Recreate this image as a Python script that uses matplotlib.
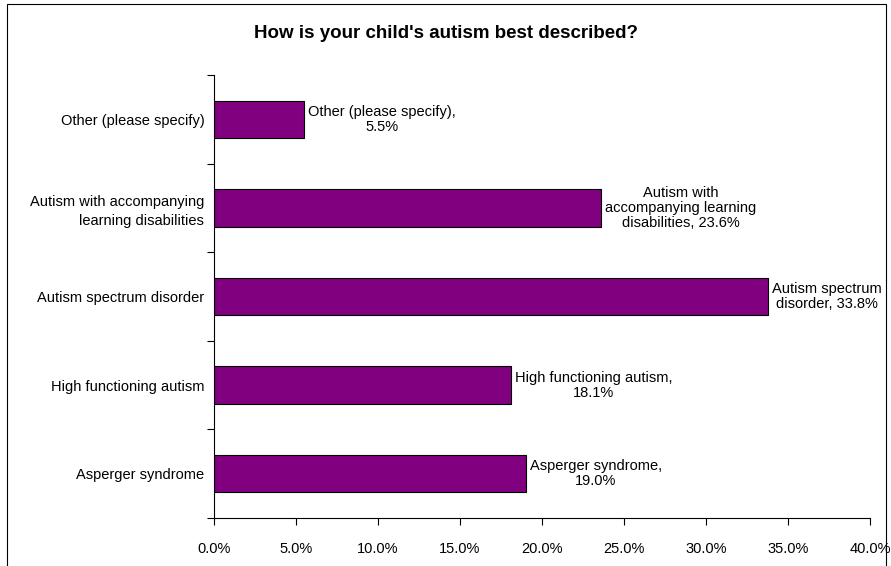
import matplotlib.pyplot as plt
from matplotlib.patches import Rectangle
from matplotlib.ticker import FixedLocator, FuncFormatter

plt.rcParams['font.family'] = ['Liberation Sans', 'DejaVu Sans']

categories = ['Asperger syndrome', 'High functioning autism', 'Autism spectrum disorder',
              'Autism with accompanying\nlearning disabilities', 'Other (please specify)']
values = [19.0, 18.1, 33.8, 23.6, 5.5]
bar_labels = ['Asperger syndrome,\n19.0%', 'High functioning autism,\n18.1%',
              'Autism spectrum\ndisorder, 33.8%',
              'Autism with\naccompanying learning\ndisabilities, 23.6%',
              'Other (please specify),\n5.5%']

fig = plt.figure(figsize=(8.91, 5.66), dpi=100)
ax = fig.add_axes([214 / 891, 48 / 566, 656 / 891, 443 / 566])

y = range(len(categories))
bars = ax.barh(y, values, height=0.42, color='#800080', edgecolor='black', linewidth=0.8)

for b, lab in zip(bars, bar_labels):
    ax.annotate(lab, (b.get_width(), b.get_y() + b.get_height() / 2),
                xytext=(3, 0), textcoords='offset points', ha='left', va='center',
                multialignment='center', fontsize=10.5, linespacing=1.1)

ax.set_xlim(0, 40)
ax.set_ylim(-0.5, len(categories) - 0.5)
ax.set_xticks([0, 5, 10, 15, 20, 25, 30, 35, 40])
ax.xaxis.set_major_formatter(FuncFormatter(lambda v, p: '%.1f%%' % v))
ax.set_yticks(list(y))
ax.set_yticklabels(categories, fontsize=10.5, linespacing=1.4)
ax.yaxis.set_minor_locator(FixedLocator([i - 0.5 for i in range(len(categories) + 1)]))
ax.tick_params(axis='y', which='major', length=0, pad=7)
ax.tick_params(axis='y', which='minor', length=5, width=0.8)
ax.tick_params(axis='x', length=5, width=0.8, labelsize=10.5, pad=12)
ax.spines['top'].set_visible(False)
ax.spines['right'].set_visible(False)
ax.spines['left'].set_linewidth(0.8)
ax.spines['bottom'].set_linewidth(0.8)

fig.text(0.5, 1 - 33 / 566, "How is your child's autism best described?",
         ha='center', va='center', fontsize=13.5, fontweight='bold')

fig.patches.append(Rectangle((7 / 891, -0.05), 879 / 891, 1.05 - 4 / 566,
                             transform=fig.transFigure, fill=False,
                             edgecolor='black', linewidth=0.8))

fig.savefig('out.png', dpi=100)
